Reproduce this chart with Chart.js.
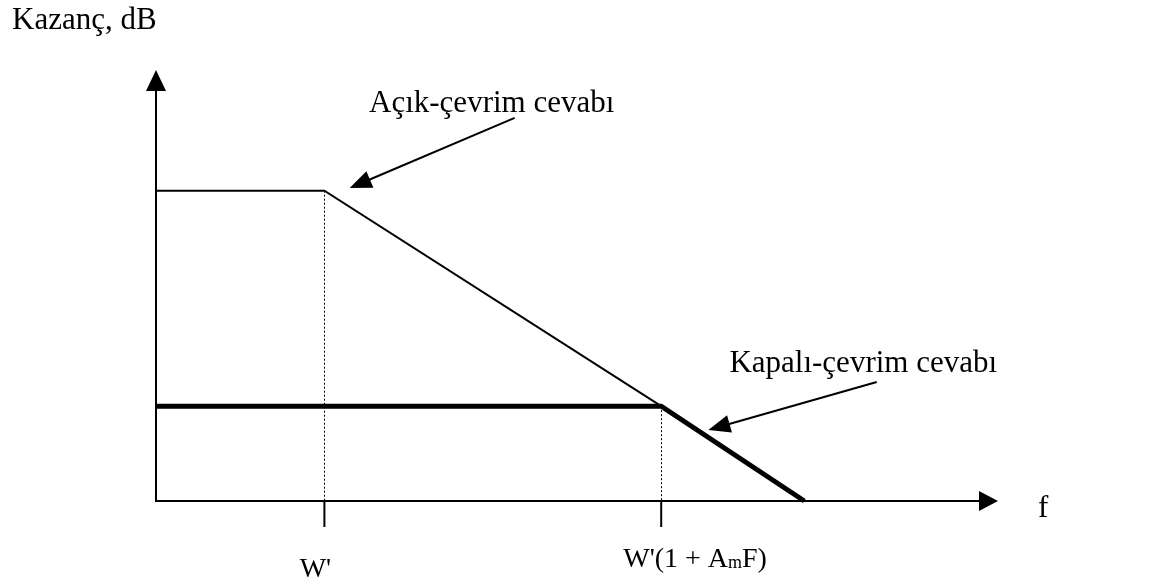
<!DOCTYPE html>
<html>
<head>
<meta charset="utf-8">
<script src="https://cdn.jsdelivr.net/npm/chart.js@4/dist/chart.umd.min.js"></script>
<style>
    html, body { margin: 0; padding: 0; background: #fff; }
    #wrap { width: 1153px; height: 587px; position: relative; }
</style>
</head>
<body>
<div id="wrap"><canvas id="gain-chart"></canvas></div>
<script>
// Bode-like gain sketch (open-loop vs closed-loop response)
const freqOpen = [0, 2, 6];
const gainOpen = [7.2, 7.2, 2.2];
const freqClosed = [0, 6, 7.7];
const gainClosed = [2.2, 2.2, 0];

const tickFreqs = [2, 6];
const tickTop = [7.2, 2.2];   // where the dotted guides start
const tickLabels = ["W'", "W'(1 + A", "F)"];

const yTitle = "Kazanç, dB";
const xTitle = "f";
const openLabel = "Açık-çevrim cevabı";
const closedLabel = "Kapalı-çevrim cevabı";

const FONT = "31px 'Liberation Serif', 'Times New Roman', serif";
const MID = "28px 'Liberation Serif', 'Times New Roman', serif";
const SMALL = "18px 'Liberation Serif', 'Times New Roman', serif";

function toPoints(xs, ys) {
    return xs.map((x, i) => ({ x: x, y: ys[i] }));
}

function arrowHead(ctx, x0, y0, x1, y1, len, half) {
    // filled triangle with tip at (x1, y1)
    const a = Math.atan2(y1 - y0, x1 - x0);
    const bx = x1 - len * Math.cos(a);
    const by = y1 - len * Math.sin(a);
    ctx.beginPath();
    ctx.moveTo(x1, y1);
    ctx.lineTo(bx + half * Math.sin(a), by - half * Math.cos(a));
    ctx.lineTo(bx - half * Math.sin(a), by + half * Math.cos(a));
    ctx.closePath();
    ctx.fill();
}

function pointer(ctx, x0, y0, x1, y1) {
    const a = Math.atan2(y1 - y0, x1 - x0);
    ctx.beginPath();
    ctx.moveTo(x0, y0);
    ctx.lineTo(x1 - 18 * Math.cos(a), y1 - 18 * Math.sin(a));
    ctx.stroke();
    arrowHead(ctx, x0, y0, x1, y1, 22, 9);
}

const sketchPlugin = {
    id: 'sketch',
    beforeDatasetsDraw(chart) {
        const { ctx, scales: { x, y } } = chart;
        const x0 = x.getPixelForValue(0);
        const y0 = y.getPixelForValue(0);
        ctx.save();
        ctx.strokeStyle = '#000';
        ctx.fillStyle = '#000';

        // dotted guides
        ctx.lineWidth = 1;
        ctx.setLineDash([2, 2]);
        tickFreqs.forEach((f, i) => {
            const px = Math.round(x.getPixelForValue(f)) + 0.5;
            ctx.beginPath();
            ctx.moveTo(px, y.getPixelForValue(tickTop[i]));
            ctx.lineTo(px, y0);
            ctx.stroke();
        });
        ctx.setLineDash([]);

        // axes
        ctx.lineWidth = 2;
        ctx.beginPath();
        ctx.moveTo(x0, y.top + 18);
        ctx.lineTo(x0, y0);
        ctx.lineTo(x.right - 16, y0);
        ctx.stroke();
        arrowHead(ctx, x0, y0, x0, y.top, 21, 10);
        arrowHead(ctx, x0, y0, x.right, y0, 19, 10);

        // ticks
        tickFreqs.forEach(f => {
            const px = x.getPixelForValue(f);
            ctx.beginPath();
            ctx.moveTo(px, y0);
            ctx.lineTo(px, y0 + 26);
            ctx.stroke();
        });
        ctx.restore();
    },
    afterDraw(chart) {
        const { ctx, scales: { x, y } } = chart;
        const y0 = y.getPixelForValue(0);
        ctx.save();
        ctx.fillStyle = '#000';
        ctx.strokeStyle = '#000';
        ctx.font = FONT;
        ctx.textBaseline = 'alphabetic';

        // titles
        ctx.fillText(yTitle, 12, 29);
        ctx.fillText(xTitle, x.right + 40, y0 + 16);

        // tick labels
        const w1 = x.getPixelForValue(tickFreqs[0]);
        ctx.font = MID;
        ctx.textAlign = 'center';
        ctx.fillText(tickLabels[0], w1 - 9, y0 + 76);
        ctx.textAlign = 'left';
        const w2 = x.getPixelForValue(tickFreqs[1]);
        let tx = w2 - 38;
        const ty = y0 + 66;
        ctx.fillText(tickLabels[1], tx, ty);
        tx += ctx.measureText(tickLabels[1]).width;
        ctx.font = SMALL;
        ctx.fillText('m', tx, ty + 1);
        tx += ctx.measureText('m').width;
        ctx.font = MID;
        ctx.fillText(tickLabels[2], tx, ty);

        // callouts
        ctx.font = FONT;
        ctx.fillText(openLabel, x.getPixelForValue(2.53), y.getPixelForValue(9.03));
        ctx.fillText(closedLabel, x.getPixelForValue(6.81), y.getPixelForValue(3.0));

        ctx.lineWidth = 2;
        pointer(ctx, x.getPixelForValue(4.26), y.getPixelForValue(8.89),
                     x.getPixelForValue(2.30), y.getPixelForValue(7.26));
        pointer(ctx, x.getPixelForValue(8.56), y.getPixelForValue(2.76),
                     x.getPixelForValue(6.56), y.getPixelForValue(1.65));
        ctx.restore();
    }
};

new Chart(document.getElementById('gain-chart'), {
    type: 'scatter',
    data: {
        datasets: [
            {
                label: openLabel,
                data: toPoints(freqOpen, gainOpen),
                showLine: true,
                borderColor: '#000',
                borderWidth: 2,
                pointRadius: 0,
                tension: 0,
                clip: false
            },
            {
                label: closedLabel,
                data: toPoints(freqClosed, gainClosed),
                showLine: true,
                borderColor: '#000',
                borderWidth: 5,
                borderJoinStyle: 'miter',
                pointRadius: 0,
                tension: 0,
                clip: false
            }
        ]
    },
    options: {
        responsive: true,
        maintainAspectRatio: false,
        animation: false,
        events: [],
        layout: {
            padding: { left: 156, right: 155, top: 70, bottom: 86 }
        },
        plugins: {
            legend: { display: false },
            tooltip: { enabled: false }
        },
        scales: {
            x: { type: 'linear', min: 0, max: 10, display: false },
            y: { type: 'linear', min: 0, max: 10, display: false }
        }
    },
    plugins: [sketchPlugin]
});
</script>
</body>
</html>
